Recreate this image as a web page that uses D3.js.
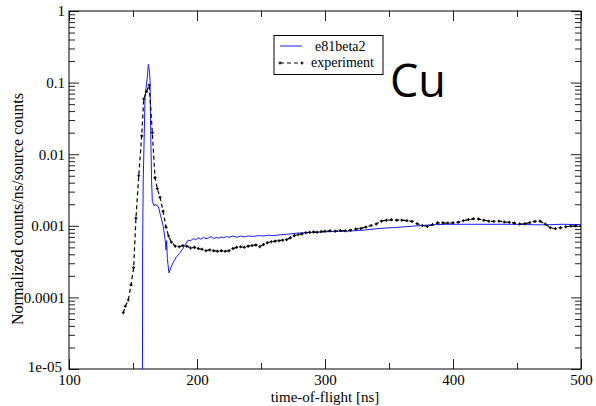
<!DOCTYPE html>
<html>
<head>
<meta charset="utf-8">
<script src="https://cdn.jsdelivr.net/npm/d3@7"></script>
<style>
  body { margin: 0; background: #fff; }
  svg text { font-family: 'Liberation Serif', 'Times New Roman', Times, 'DejaVu Serif', serif; }
  svg text.cu { font-family: 'Open Sans', 'Noto Sans', sans-serif; }
</style>
</head>
<body>
<div id="chart"></div>
<script>
// time-of-flight tick labels
var xTicks = [100, 200, 300, 400, 500];
var xMinor = [150, 250, 350, 450];
var yTicks = [1, 0.1, 0.01, 0.001, 0.0001, 0.00001];
var yTickLabels = ["1", "0.1", "0.01", "0.001", "0.0001", "1e-05"];

// e81beta2 (simulation) : [t ns, value]
var simT = [157.3, 157.5, 158, 159.4, 161.2, 162, 162.9, 163.3, 163.8, 164.5, 165.1, 166.5, 167.2, 169.8, 171.5, 173.7, 175.3, 175.8, 176.3, 176.8, 178.1, 179.5, 181.5, 184, 186.7, 189, 191, 193, 195, 197, 199, 201, 203, 205, 207, 209, 211, 213, 215, 217, 219, 221, 223, 225, 228, 231, 234, 237, 240, 244, 248, 252, 256, 260, 265, 270, 278, 290, 304, 317, 330, 343, 356, 369, 382, 395, 420, 445, 470, 485, 500];
var simV = [1e-7, 0.0005, 0.0044, 0.063, 0.12, 0.18, 0.14, 0.108, 0.022, 0.0044, 0.0022, 0.0019, 0.002, 0.00185, 0.0014, 0.00097, 0.0006, 0.00046, 0.00062, 0.00035, 0.00022, 0.00026, 0.00031, 0.00037, 0.00042, 0.00048, 0.00055, 0.00063, 0.00062, 0.00066, 0.00064, 0.00068, 0.00065, 0.00069, 0.00066, 0.00068, 0.00071, 0.00066, 0.00069, 0.00067, 0.0007, 0.00068, 0.00071, 0.00069, 0.00072, 0.00069, 0.00072, 0.0007, 0.00072, 0.00071, 0.00073, 0.00072, 0.00074, 0.00073, 0.00075, 0.00076, 0.00079, 0.00081, 0.00083, 0.00084, 0.00087, 0.00092, 0.00095, 0.00099, 0.00103, 0.00105, 0.00105, 0.00105, 0.00103, 0.00105, 0.00104];

// experiment : [t ns, value]
var expT = [142.4, 144, 146.3, 148.5, 150.5, 152.3, 154.5, 156.8, 158.4, 160.5, 162.7, 165.1, 167.2, 169, 171.1, 173.5, 175.8, 177.8, 180, 183, 186, 189, 192, 195, 198, 201, 204, 207, 210, 213, 216, 219, 222, 225, 228, 231, 234, 237, 240, 243, 246, 249, 252, 255, 258, 261, 264, 267, 270, 273, 276, 279, 282, 285, 288, 291, 294, 297, 300, 304, 308, 312, 316, 320, 324, 328, 332, 336, 340, 344, 348, 352, 356, 360, 364, 368, 372, 376, 380, 384, 388, 392, 396, 400, 404, 408, 412, 416, 420, 424, 428, 432, 436, 440, 444, 448, 452, 456, 460, 464, 468, 472, 476, 480, 484, 488, 492, 496, 500];
var expV = [6.1e-5, 7.5e-5, 9.2e-5, 1.5e-4, 2.6e-4, 1.28e-3, 5e-3, 0.018, 0.059, 0.075, 0.092, 0.02, 0.0047, 0.0033, 0.0025, 0.0016, 0.00096, 0.00072, 0.00059, 0.00052, 0.00051, 0.00053, 0.00052, 0.00049, 0.0005, 0.00048, 0.00047, 0.00045, 0.00046, 0.00045, 0.00044, 0.00045, 0.00044, 0.00045, 0.00048, 0.0005, 0.00051, 0.0005, 0.00052, 0.00053, 0.00054, 0.00051, 0.00055, 0.00058, 0.0006, 0.00061, 0.00062, 0.00063, 0.00064, 0.00068, 0.00073, 0.00075, 0.00077, 0.0008, 0.00081, 0.00082, 0.00081, 0.00083, 0.00084, 0.00085, 0.00084, 0.00086, 0.00085, 0.00087, 0.0009, 0.00092, 0.00096, 0.00101, 0.00106, 0.00116, 0.0012, 0.00121, 0.0012, 0.0012, 0.00118, 0.00115, 0.00107, 0.00101, 0.00098, 0.00104, 0.0011, 0.0011, 0.00109, 0.0011, 0.00112, 0.00118, 0.00122, 0.00125, 0.00124, 0.0012, 0.00116, 0.00115, 0.00116, 0.00113, 0.00112, 0.00109, 0.00106, 0.00107, 0.00111, 0.00115, 0.00116, 0.00106, 0.00094, 0.00091, 0.00094, 0.00097, 0.00099, 0.001, 0.00098];

var w = 596, h = 406;
var margin = {left: 69, right: 15, top: 11, bottom: 37};
var serif = "'Liberation Serif', 'Times New Roman', Times, 'DejaVu Serif', serif";

var x = d3.scaleLinear().domain([100, 500]).range([margin.left, w - margin.right]);
var y = d3.scaleLog().domain([1e-5, 1]).range([h - margin.bottom, margin.top]);

var svg = d3.select("#chart").append("svg")
  .attr("width", w)
  .attr("height", h);

svg.append("defs").append("clipPath").attr("id", "clip")
  .append("rect")
  .attr("x", margin.left).attr("y", margin.top)
  .attr("width", w - margin.left - margin.right)
  .attr("height", h - margin.top - margin.bottom);

// minor log ticks 2..9 in each decade
var yMinor = [];
yTicks.slice(1).forEach(function(d) {
  for (var k = 2; k < 10; k++) yMinor.push(d * k);
});

var x0 = margin.left, x1 = w - margin.right, y0 = h - margin.bottom, y1 = margin.top;

function drawAxes() {
  var g = svg.append("g").attr("class", "axes");

  // bottom
  g.append("g").attr("transform", "translate(0," + y0 + ")")
    .call(d3.axisBottom(x).tickValues(xTicks).tickSize(-10).tickPadding(5).tickFormat(d3.format("d")));
  g.append("g").attr("transform", "translate(0," + y0 + ")")
    .call(d3.axisBottom(x).tickValues(xMinor).tickSize(-6).tickFormat(""));
  // top
  g.append("g").attr("transform", "translate(0," + y1 + ")")
    .call(d3.axisTop(x).tickValues(xTicks).tickSize(-10).tickFormat(""));
  g.append("g").attr("transform", "translate(0," + y1 + ")")
    .call(d3.axisTop(x).tickValues(xMinor).tickSize(-6).tickFormat(""));
  // left
  var left = g.append("g").attr("transform", "translate(" + x0 + ",0)")
    .call(d3.axisLeft(y).tickValues(yTicks).tickSize(-10).tickPadding(4)
      .tickFormat(function(d, i) { return yTickLabels[i]; }));
  // lowest label sits a bit up and left, as in the original
  left.selectAll(".tick text").filter(function(d) { return d === 0.00001; })
    .attr("x", -7).attr("dy", "0.18em");
  g.append("g").attr("transform", "translate(" + x0 + ",0)")
    .call(d3.axisLeft(y).tickValues(yMinor).tickSize(-6).tickFormat(""));
  // right
  g.append("g").attr("transform", "translate(" + x1 + ",0)")
    .call(d3.axisRight(y).tickValues(yTicks).tickSize(-10).tickFormat(""));
  g.append("g").attr("transform", "translate(" + x1 + ",0)")
    .call(d3.axisRight(y).tickValues(yMinor).tickSize(-6).tickFormat(""));

  g.selectAll(".domain").remove();
  g.selectAll("g").attr("font-family", null);
  g.selectAll(".tick line").attr("stroke", "#222").attr("stroke-width", 1);
  g.selectAll(".tick text")
    .style("font-family", serif)
    .attr("font-size", 15)
    .attr("fill", "#000");

  svg.append("rect")
    .attr("x", x0).attr("y", y1)
    .attr("width", x1 - x0).attr("height", y0 - y1)
    .attr("fill", "none").attr("stroke", "#000").attr("stroke-width", 1);
}
drawAxes();

var line = d3.line()
  .x(function(d) { return x(d[0]); })
  .y(function(d) { return y(Math.max(d[1], 1e-7)); });

var simData = simT.map(function(t, i) { return [t, simV[i]]; });
var expData = expT.map(function(t, i) { return [t, expV[i]]; });

var plot = svg.append("g").attr("clip-path", "url(#clip)");

plot.append("path")
  .datum(simData)
  .attr("d", line)
  .attr("fill", "none")
  .attr("stroke", "#1a1aff")
  .attr("stroke-width", 1);

plot.append("path")
  .datum(expData)
  .attr("d", line)
  .attr("fill", "none")
  .attr("stroke", "#000")
  .attr("stroke-width", 1.2)
  .attr("stroke-dasharray", "4,3");

plot.selectAll("path.mk")
  .data(expData)
  .enter().append("path")
  .attr("class", "mk")
  .attr("transform", function(d) { return "translate(" + x(d[0]) + "," + y(d[1]) + ")"; })
  .attr("d", "M-1.5,0h3M0,-1.5v3")
  .attr("stroke", "#000")
  .attr("stroke-width", 1.2);

// axis titles
svg.append("text")
  .attr("x", (x0 + x1) / 2)
  .attr("y", 401.5)
  .attr("text-anchor", "middle")
  .style("font-family", serif)
  .attr("font-size", 15)
  .text("time-of-flight [ns]");

svg.append("text")
  .attr("transform", "translate(23,209) rotate(-90)")
  .attr("text-anchor", "middle")
  .style("font-family", serif)
  .attr("font-size", 16)
  .text("Normalized counts/ns/source counts");

// legend
var leg = svg.append("g");
leg.append("rect")
  .attr("x", 274).attr("y", 35.5)
  .attr("width", 109).attr("height", 39)
  .attr("fill", "#fff").attr("stroke", "#000").attr("stroke-width", 1);
leg.append("line")
  .attr("x1", 280).attr("x2", 302).attr("y1", 46).attr("y2", 46)
  .attr("stroke", "#1a1aff").attr("stroke-width", 1);
leg.append("line")
  .attr("x1", 280).attr("x2", 302).attr("y1", 63).attr("y2", 63)
  .attr("stroke", "#000").attr("stroke-width", 1.2).attr("stroke-dasharray", "4,3");
[280, 302].forEach(function(px) {
  leg.append("path")
    .attr("transform", "translate(" + px + ",63)")
    .attr("d", "M-1.5,0h3M0,-1.5v3")
    .attr("stroke", "#000").attr("stroke-width", 1.2);
});
leg.append("text").attr("x", 315).attr("y", 51).style("font-family", serif).attr("font-size", 14).text("e81beta2");
leg.append("text").attr("x", 311).attr("y", 67).style("font-family", serif).attr("font-size", 14).text("experiment");

// element label
svg.append("text")
  .attr("class", "cu")
  .attr("x", 390)
  .attr("y", 97)
  .attr("font-size", 45)
  .text("Cu");
</script>
</body>
</html>
